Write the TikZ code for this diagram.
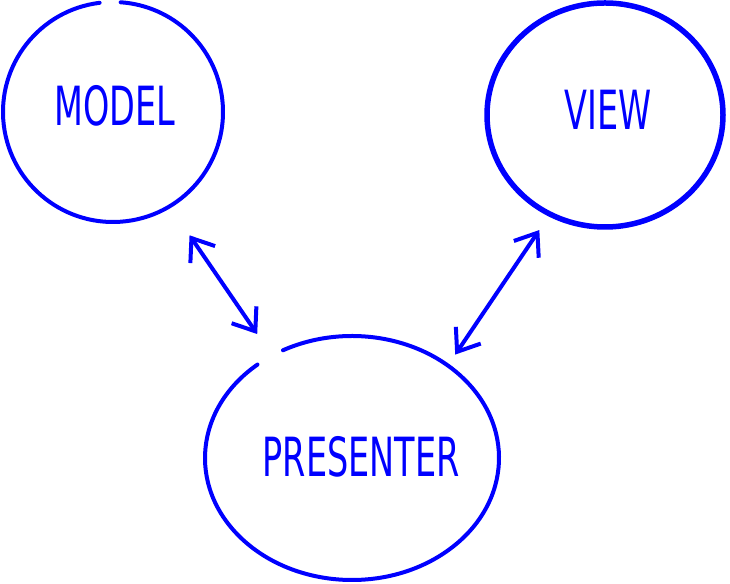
\documentclass[tikz,border=0pt]{standalone}
\usepackage{fontspec}
\usepackage{tikz}
\usetikzlibrary{arrows.meta,shapes.geometric}
\newfontfamily\handfont[FakeStretch=0.62]{DejaVu Sans}
\definecolor{colPEN}{RGB}{0,0,255}

\begin{document}
\begin{tikzpicture}[x=1pt, y=1pt,
    every node/.style={font=\handfont\fontsize{54}{60}\selectfont, text=colPEN},
    blob/.style={ellipse, draw=none, inner sep=0pt},
    rim/.style={colPEN, line width=4pt, line cap=round},
    link/.style={colPEN, line width=4pt, line cap=round,
      {Straight Barb[length=20pt,width=30pt]}-{Straight Barb[length=20pt,width=30pt]}}]
      \useasboundingbox (0,0) rectangle (730,583);
      % --- nodes ---
      \node[blob, minimum width=220pt, minimum height=220pt] (model) at (113,471) {};
      \node[blob, minimum width=236pt, minimum height=224pt] (view) at (605,468) {};
      \node[blob, minimum width=294pt, minimum height=244pt] (presenter) at (352,125) {};
      \node at (115,477) {MODEL};
      \node at (608,473) {VIEW};
      \node at (361,126) {PRESENTER};
      % --- hand drawn rims ---
      \draw[rim] (model.center) ++(97:110) arc[start angle=97, end angle=446, radius=110];
      \draw[rim, line width=5.5pt] (view.center) ellipse[x radius=118, y radius=112];
      \draw[rim] (presenter.center) ++(130:147 and 122)
        arc[start angle=130, end angle=478, x radius=147, y radius=122];
      % --- connectors ---
      \draw[link, shorten <=35pt, shorten >=26pt] (model.301) -- (presenter.128);
      \draw[link, shorten <=19pt, shorten >=13pt] (view.241) -- (presenter.44);
\end{tikzpicture}
\end{document}
